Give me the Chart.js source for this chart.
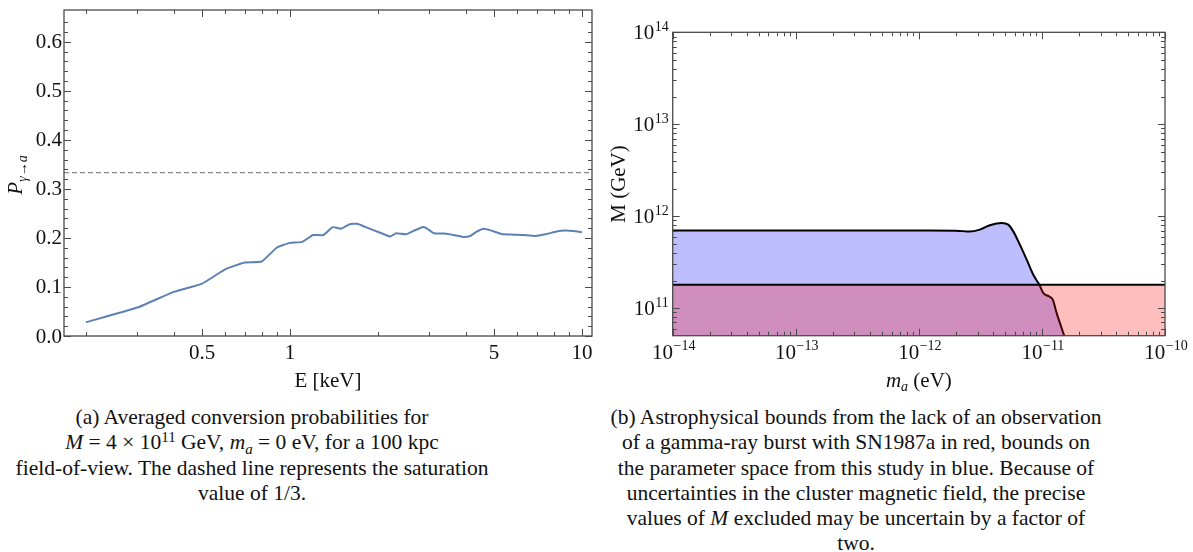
<!DOCTYPE html>
<html>
<head>
<meta charset="utf-8">
<script src="https://cdn.jsdelivr.net/npm/chart.js@4.4.1/dist/chart.umd.min.js"></script>
<style>
  html, body { margin: 0; padding: 0; background: #fff; }
  body { width: 1193px; height: 552px; position: relative; overflow: hidden; }
  canvas { position: absolute; top: 0; }
  #cL { left: 0; }
  #cR { left: 600px; }
  .cap { position: absolute; top: 405px; font-family: "Liberation Serif", "DejaVu Serif", serif;
         font-size: 21.5px; line-height: 25.3px; color: #111; text-align: center; white-space: nowrap; }
  .cap div { white-space: nowrap; }
  .cap sup { font-size: 0.7em; vertical-align: 0; position: relative; top: -0.5em; line-height: 0; }
  .cap sub { font-size: 0.7em; vertical-align: 0; position: relative; top: 0.3em; line-height: 0; }
  #capL { left: 2px; width: 500px; }
  #capR { left: 606px; width: 500px; }
</style>
</head>
<body>
<canvas id="cL" width="600" height="400"></canvas>
<canvas id="cR" width="593" height="400"></canvas>

<div class="cap" id="capL">
  <div>(a) Averaged conversion probabilities for</div>
  <div><i>M</i> = 4 × 10<sup>11</sup> GeV, <i>m<sub>a</sub></i> = 0 eV, for a 100 kpc</div>
  <div>field-of-view. The dashed line represents the saturation</div>
  <div>value of 1/3.</div>
</div>
<div class="cap" id="capR">
  <div>(b) Astrophysical bounds from the lack of an observation</div>
  <div>of a gamma-ray burst with SN1987a in red, bounds on</div>
  <div>the parameter space from this study in blue. Because of</div>
  <div>uncertainties in the cluster magnetic field, the precise</div>
  <div>values of <i>M</i> excluded may be uncertain by a factor of</div>
  <div>two.</div>
</div>

<script>
// ---------------- Data: left panel ----------------
const energyKeV = [0.2, 0.3, 0.4, 0.5, 0.6, 0.7, 0.8, 0.9, 1.0, 1.1, 1.2, 1.3, 1.4, 1.5, 1.6, 1.7, 1.8,
  1.93, 2.06, 2.2, 2.31, 2.5, 2.64, 2.84, 2.93, 3.11, 3.39, 3.63, 3.92, 4.14, 4.36, 4.6, 4.84,
  5.31, 5.81, 6.29, 6.9, 7.57, 8.18, 8.74, 9.34, 10];
const probability = [0.028, 0.058, 0.090, 0.107, 0.136, 0.150, 0.152, 0.180, 0.190, 0.192, 0.206, 0.206,
  0.222, 0.219, 0.228, 0.229, 0.223, 0.216, 0.2095, 0.203, 0.2095, 0.2075, 0.214, 0.222, 0.220, 0.2095,
  0.209, 0.206, 0.202, 0.204, 0.213, 0.219, 0.216, 0.208, 0.2067, 0.206, 0.204, 0.208, 0.213, 0.215,
  0.214, 0.2116];
const saturationValue = 1 / 3;
const energyRange = [0.1683, 10.82];
const probRange = [0, 0.665];
const energyMajorTicks = [0.5, 1, 5, 10];
const energyTickLabels = ['0.5', '1', '5', '10'];
const energyMinorTicks = [0.2, 0.3, 0.4, 0.6, 0.7, 0.8, 0.9, 2, 3, 4, 6, 7, 8, 9];
const probMajorTicks = [0, 0.1, 0.2, 0.3, 0.4, 0.5, 0.6];
const probTickLabels = ['0.0', '0.1', '0.2', '0.3', '0.4', '0.5', '0.6'];
const probMinorTicks = [0.02, 0.04, 0.06, 0.08, 0.12, 0.14, 0.16, 0.18, 0.22, 0.24, 0.26, 0.28,
  0.32, 0.34, 0.36, 0.38, 0.42, 0.44, 0.46, 0.48, 0.52, 0.54, 0.56, 0.58, 0.62, 0.64];

// ---------------- Data: right panel ----------------
const axionMassEv = [1e-14, 1e-13, 1e-12, 2.0e-12, 2.59e-12, 3.13e-12, 3.78e-12, 4.70e-12, 5.32e-12,
  5.85e-12, 6.62e-12, 7.52e-12, 8.51e-12, 9.53e-12, 1.028e-11, 1.148e-11, 1.225e-11, 1.318e-11, 1.52e-11];
const studyBoundGeV = [7.0e11, 7.0e11, 7.0e11, 6.98e11, 6.81e11, 7.16e11, 7.98e11, 8.47e11, 8.11e11,
  6.85e11, 4.91e11, 3.37e11, 2.31e11, 1.80e11, 1.46e11, 1.34e11, 1.24e11, 8.85e10, 5.0e10];
const snMassEv = [1e-14, 1e-10];
const snBoundGeV = [1.8e11, 1.8e11];
const massRange = [1e-14, 1e-10];
const scaleRange = [5.03e10, 1e14];
const massMajorTicks = [1e-14, 1e-13, 1e-12, 1e-11, 1e-10];
const massTickExponents = ['\u221214', '\u221213', '\u221212', '\u221211', '\u221210'];
const scaleMajorTicks = [1e11, 1e12, 1e13, 1e14];
const scaleTickExponents = ['11', '12', '13', '14'];

function logMinor(lo, hi) {
  const out = [];
  for (let e = Math.floor(Math.log10(lo)); e <= Math.ceil(Math.log10(hi)); e++) {
    for (let m = 2; m <= 9; m++) { const v = m * Math.pow(10, e); if (v > lo && v < hi) out.push(v); }
  }
  return out;
}

const SERIF = '"Liberation Serif", "DejaVu Serif", serif';
const FRAME = '#4a4a4a';
const TEXT = '#111';
const TICKFONT = 21;
const EXPFONT = 14;

function drawFrame(chart, xMaj, xMin, yMaj, yMin) {
  const ctx = chart.ctx, a = chart.chartArea, xs = chart.scales.x, ys = chart.scales.y;
  ctx.save();
  ctx.strokeStyle = FRAME;
  ctx.lineWidth = 1.3;
  ctx.strokeRect(a.left, a.top, a.right - a.left, a.bottom - a.top);
  ctx.lineWidth = 1;
  ctx.beginPath();
  const tick = (vals, len, isX) => {
    for (const v of vals) {
      if (isX) {
        const p = Math.round(xs.getPixelForValue(v)) + 0.5;
        if (p < a.left - 0.5 || p > a.right + 0.5) continue;
        ctx.moveTo(p, a.bottom); ctx.lineTo(p, a.bottom - len);
        ctx.moveTo(p, a.top); ctx.lineTo(p, a.top + len);
      } else {
        const p = Math.round(ys.getPixelForValue(v)) + 0.5;
        if (p < a.top - 0.5 || p > a.bottom + 0.5) continue;
        ctx.moveTo(a.left, p); ctx.lineTo(a.left + len, p);
        ctx.moveTo(a.right, p); ctx.lineTo(a.right - len, p);
      }
    }
  };
  tick(xMaj, 7, true); tick(xMin, 4, true);
  tick(yMaj, 7, false); tick(yMin, 4, false);
  ctx.stroke();
  ctx.restore();
}

// Draw "10^exp" at position; align 'center' or 'right'
function drawPow(ctx, exp, x, y, align) {
  ctx.font = TICKFONT + 'px ' + SERIF;
  const wb = ctx.measureText('10').width;
  ctx.font = EXPFONT + 'px ' + SERIF;
  const we = ctx.measureText(exp).width;
  const total = wb + we + 0.5;
  let x0 = align === 'center' ? x - total / 2 : x - total;
  ctx.textAlign = 'left';
  ctx.textBaseline = 'alphabetic';
  ctx.font = TICKFONT + 'px ' + SERIF;
  ctx.fillText('10', x0, y);
  ctx.font = EXPFONT + 'px ' + SERIF;
  ctx.fillText(exp, x0 + wb + 0.5, y - 8.5);
}

// ---------------- Left chart ----------------
const leftDecor = {
  id: 'leftDecor',
  afterDraw(chart) {
    drawFrame(chart, energyMajorTicks, energyMinorTicks, probMajorTicks, probMinorTicks);
    const ctx = chart.ctx, a = chart.chartArea, xs = chart.scales.x, ys = chart.scales.y;
    ctx.save();
    ctx.fillStyle = TEXT;
    ctx.font = TICKFONT + 'px ' + SERIF;
    ctx.textAlign = 'right'; ctx.textBaseline = 'middle';
    probMajorTicks.forEach((v, i) => ctx.fillText(probTickLabels[i], a.left - 2, ys.getPixelForValue(v) + 1));
    ctx.textAlign = 'center'; ctx.textBaseline = 'alphabetic';
    energyMajorTicks.forEach((v, i) => ctx.fillText(energyTickLabels[i], xs.getPixelForValue(v), a.bottom + 23));
    ctx.fillText('E [keV]', (a.left + a.right) / 2, a.bottom + 51);
    // y title P_{γ→a}
    ctx.translate(22, (a.top + a.bottom) / 2 + 2);
    ctx.rotate(-Math.PI / 2);
    ctx.textAlign = 'left';
    ctx.font = 'italic 21px ' + SERIF;
    const wP = ctx.measureText('P').width;
    ctx.font = 'italic 14px ' + SERIF;
    const wS = ctx.measureText('\u03b3\u2192a').width;
    const x0 = -(wP + wS) / 2;
    ctx.font = 'italic 21px ' + SERIF;
    ctx.fillText('P', x0, 0);
    ctx.font = 'italic 14px ' + SERIF;
    ctx.fillText('\u03b3\u2192a', x0 + wP, 5);
    ctx.restore();
  }
};

new Chart(document.getElementById('cL'), {
  type: 'line',
  data: {
    datasets: [
      {
        data: energyKeV.map((e, i) => ({ x: e, y: probability[i] })),
        borderColor: '#5e81b5', borderWidth: 2, pointRadius: 0, tension: 0.15, fill: false
      },
      {
        data: energyRange.map(e => ({ x: e, y: saturationValue })),
        borderColor: '#8a8a8a', borderWidth: 1.4, borderDash: [5, 3], pointRadius: 0, fill: false
      }
    ]
  },
  options: {
    responsive: false, animation: false, devicePixelRatio: 1,
    layout: { padding: { left: 64, right: 8, top: 10, bottom: 64 } },
    plugins: { legend: { display: false }, tooltip: { enabled: false } },
    scales: {
      x: { type: 'logarithmic', min: energyRange[0], max: energyRange[1], display: false },
      y: { type: 'linear', min: probRange[0], max: probRange[1], display: false }
    }
  },
  plugins: [leftDecor]
});

// ---------------- Right chart ----------------
const rightDecor = {
  id: 'rightDecor',
  afterDraw(chart) {
    drawFrame(chart, massMajorTicks, logMinor(massRange[0], massRange[1]),
      scaleMajorTicks, logMinor(scaleRange[0], scaleRange[1]));
    const ctx = chart.ctx, a = chart.chartArea, xs = chart.scales.x, ys = chart.scales.y;
    ctx.save();
    ctx.fillStyle = TEXT;
    massMajorTicks.forEach((v, i) => drawPow(ctx, massTickExponents[i], xs.getPixelForValue(v) + 1, a.bottom + 23, 'center'));
    scaleMajorTicks.forEach((v, i) => drawPow(ctx, scaleTickExponents[i], a.left - 4, ys.getPixelForValue(v) + 7, 'right'));
    // x title m_a (eV)
    ctx.textAlign = 'left'; ctx.textBaseline = 'alphabetic';
    ctx.font = 'italic 21px ' + SERIF;
    const wm = ctx.measureText('m').width;
    ctx.font = 'italic 14px ' + SERIF;
    const wa = ctx.measureText('a').width;
    ctx.font = '21px ' + SERIF;
    const wr = ctx.measureText(' (eV)').width;
    let x0 = (a.left + a.right) / 2 - (wm + wa + wr) / 2;
    const yb = a.bottom + 51;
    ctx.font = 'italic 21px ' + SERIF; ctx.fillText('m', x0, yb);
    ctx.font = 'italic 14px ' + SERIF; ctx.fillText('a', x0 + wm, yb + 4);
    ctx.font = '21px ' + SERIF; ctx.fillText(' (eV)', x0 + wm + wa, yb);
    // y title
    ctx.translate(25, (a.top + a.bottom) / 2);
    ctx.rotate(-Math.PI / 2);
    ctx.textAlign = 'center';
    ctx.font = '21px ' + SERIF;
    ctx.fillText('M (GeV)', 0, 0);
    ctx.restore();
  }
};

new Chart(document.getElementById('cR'), {
  type: 'line',
  data: {
    datasets: [
      {
        data: snMassEv.map((m, i) => ({ x: m, y: snBoundGeV[i] })),
        borderColor: '#000', borderWidth: 2, pointRadius: 0,
        backgroundColor: 'rgba(255,0,0,0.255)', fill: 'start'
      },
      {
        data: axionMassEv.map((m, i) => ({ x: m, y: studyBoundGeV[i] })),
        borderColor: '#000', borderWidth: 2, pointRadius: 0, cubicInterpolationMode: 'monotone',
        backgroundColor: 'rgba(0,0,255,0.255)', fill: 'start'
      }
    ]
  },
  options: {
    responsive: false, animation: false, devicePixelRatio: 1,
    layout: { padding: { left: 72.7, right: 28, top: 32.3, bottom: 64.3 } },
    plugins: { legend: { display: false }, tooltip: { enabled: false } },
    scales: {
      x: { type: 'logarithmic', min: massRange[0], max: massRange[1], display: false },
      y: { type: 'logarithmic', min: scaleRange[0], max: scaleRange[1], display: false }
    }
  },
  plugins: [rightDecor]
});
</script>
</body>
</html>
